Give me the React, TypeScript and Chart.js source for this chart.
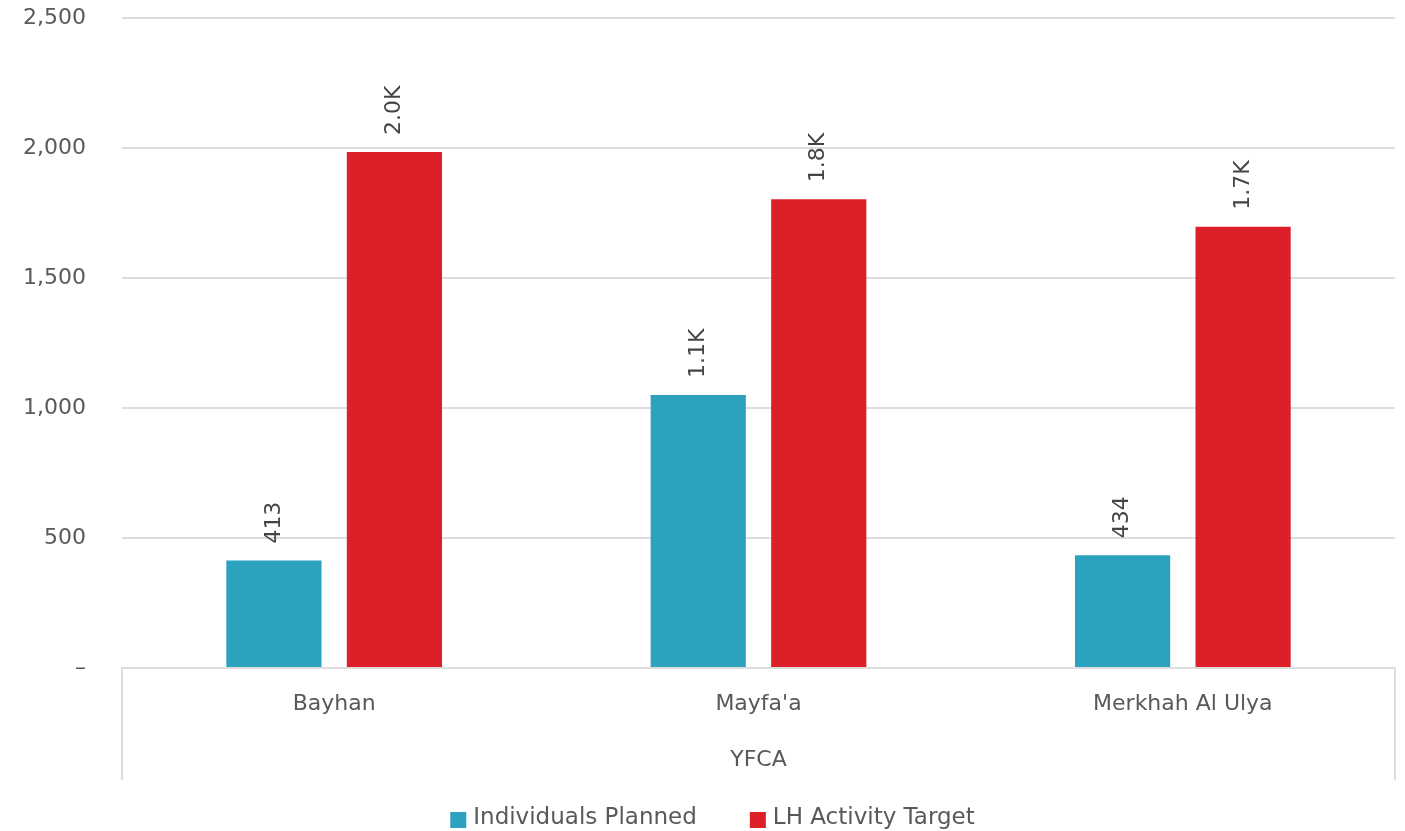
import React, { useEffect, useRef } from "react";
import { Chart, registerables } from "chart.js";

Chart.register(...registerables);

const categories = ["Bayhan", "Mayfa'a", "Merkhah Al Ulya"];
const groupLabel = "YFCA";
const individualsPlanned = [413, 1050, 434];
const lhActivityTarget = [1985, 1803, 1697];
const seriesNames = ["Individuals Planned", "LH Activity Target"];
const seriesColors = ["#2CA2BF", "#DC1F28"];
const yTicks = [0, 500, 1000, 1500, 2000, 2500];

const FONT = "'DejaVu Sans', Verdana, sans-serif";
const TEXT = "#595959";
const GRID = "#dddddd";

function fmtLabel(v: number): string {
  if (v >= 1000) return (v / 1000).toFixed(1) + "K";
  return String(Math.round(v));
}

const dataLabelPlugin = {
  id: "rotLabels",
  afterDatasetsDraw(chart: any) {
    const ctx = chart.ctx;
    ctx.save();
    ctx.font = `22px ${FONT}`;
    ctx.fillStyle = "#444444";
    chart.data.datasets.forEach((ds: any, i: number) => {
      const meta = chart.getDatasetMeta(i);
      meta.data.forEach((el: any, j: number) => {
        const v = ds.data[j];
        ctx.save();
        ctx.translate(el.x, el.y - 17);
        ctx.rotate(-Math.PI / 2);
        ctx.textAlign = "left";
        ctx.textBaseline = "middle";
        ctx.fillText(fmtLabel(v), 0, 0);
        ctx.restore();
      });
    });
    ctx.restore();
  },
};

const groupLinesPlugin = {
  id: "groupLines",
  afterDraw(chart: any) {
    const { ctx, chartArea } = chart;
    const xs = chart.scales.x;
    ctx.save();
    ctx.strokeStyle = GRID;
    ctx.lineWidth = 2;
    [chartArea.left, chartArea.right].forEach((x: number) => {
      ctx.beginPath();
      ctx.moveTo(x, chartArea.bottom);
      ctx.lineTo(x, xs.bottom - 6);
      ctx.stroke();
    });
    ctx.restore();
  },
};

const legendPlugin = {
  id: "customLegend",
  afterDraw(chart: any) {
    const { ctx } = chart;
    const xs = chart.scales.x;
    const box = 16;
    const gapText = 7;
    const gapItem = 53;
    ctx.save();
    ctx.font = `23px ${FONT}`;
    const items = chart.data.datasets.map((ds: any) => ({
      text: ds.label,
      color: ds.backgroundColor,
      w: ctx.measureText(ds.label).width,
    }));
    const total =
      items.reduce((s: number, it: any) => s + box + gapText + it.w, 0) + gapItem * (items.length - 1);
    let x = chart.width / 2 + 10 - total / 2;
    const cy = xs.bottom + 34;
    items.forEach((it: any) => {
      ctx.fillStyle = it.color;
      ctx.fillRect(x, cy - box / 2, box, box);
      ctx.fillStyle = TEXT;
      ctx.textAlign = "left";
      ctx.textBaseline = "middle";
      ctx.fillText(it.text, x + box + gapText, cy - 2);
      x += box + gapText + it.w + gapItem;
    });
    ctx.restore();
  },
};

export default function App() {
  const ref = useRef<HTMLCanvasElement | null>(null);
  useEffect(() => {
    if (!ref.current) return;
    const chart = new Chart(ref.current, {
      type: "bar",
      data: {
        labels: categories,
        datasets: [
          {
            label: seriesNames[0],
            data: individualsPlanned,
            backgroundColor: seriesColors[0],
            categoryPercentage: 0.568,
            barPercentage: 0.79,
          },
          {
            label: seriesNames[1],
            data: lhActivityTarget,
            backgroundColor: seriesColors[1],
            categoryPercentage: 0.568,
            barPercentage: 0.79,
          },
        ],
      },
      options: {
        animation: false,
        responsive: true,
        maintainAspectRatio: false,
        layout: { padding: { top: 18, right: 10, bottom: 45, left: 0 } },
        plugins: {
          tooltip: { enabled: false },
          legend: { display: false },
        },
        scales: {
          x: {
            grid: { display: false, drawTicks: false },
            border: { display: true, color: GRID, width: 2 },
            ticks: {
              color: TEXT,
              font: { family: FONT, size: 22 },
              padding: 23,
            },
            title: {
              display: true,
              text: groupLabel,
              color: TEXT,
              font: { family: FONT, size: 22 },
              padding: { top: 6.2, bottom: 13 },
            },
          },
          y: {
            min: 0,
            max: yTicks[yTicks.length - 1],
            afterBuildTicks(scale: any) {
              scale.ticks = yTicks.map((v) => ({ value: v }));
            },
            grid: { color: GRID, lineWidth: 2, drawTicks: false },
            border: { display: false },
            ticks: {
              color: TEXT,
              font: { family: FONT, size: 22 },
              padding: 36,
              callback: (v: any) => (Number(v) === 0 ? "–" : Number(v).toLocaleString("en-US")),
            },
            afterFit(scale: any) {
              scale.width = 122;
              scale.paddingTop = 0;
              scale.paddingBottom = 0;
            },
          },
        },
      },
      plugins: [dataLabelPlugin, groupLinesPlugin, legendPlugin],
    });
    return () => chart.destroy();
  }, []);
  return (
    <div style={{ position: "fixed", left: 0, top: 0, width: 1405, height: 831, background: "#fff" }}>
      <canvas ref={ref} />
    </div>
  );
}
